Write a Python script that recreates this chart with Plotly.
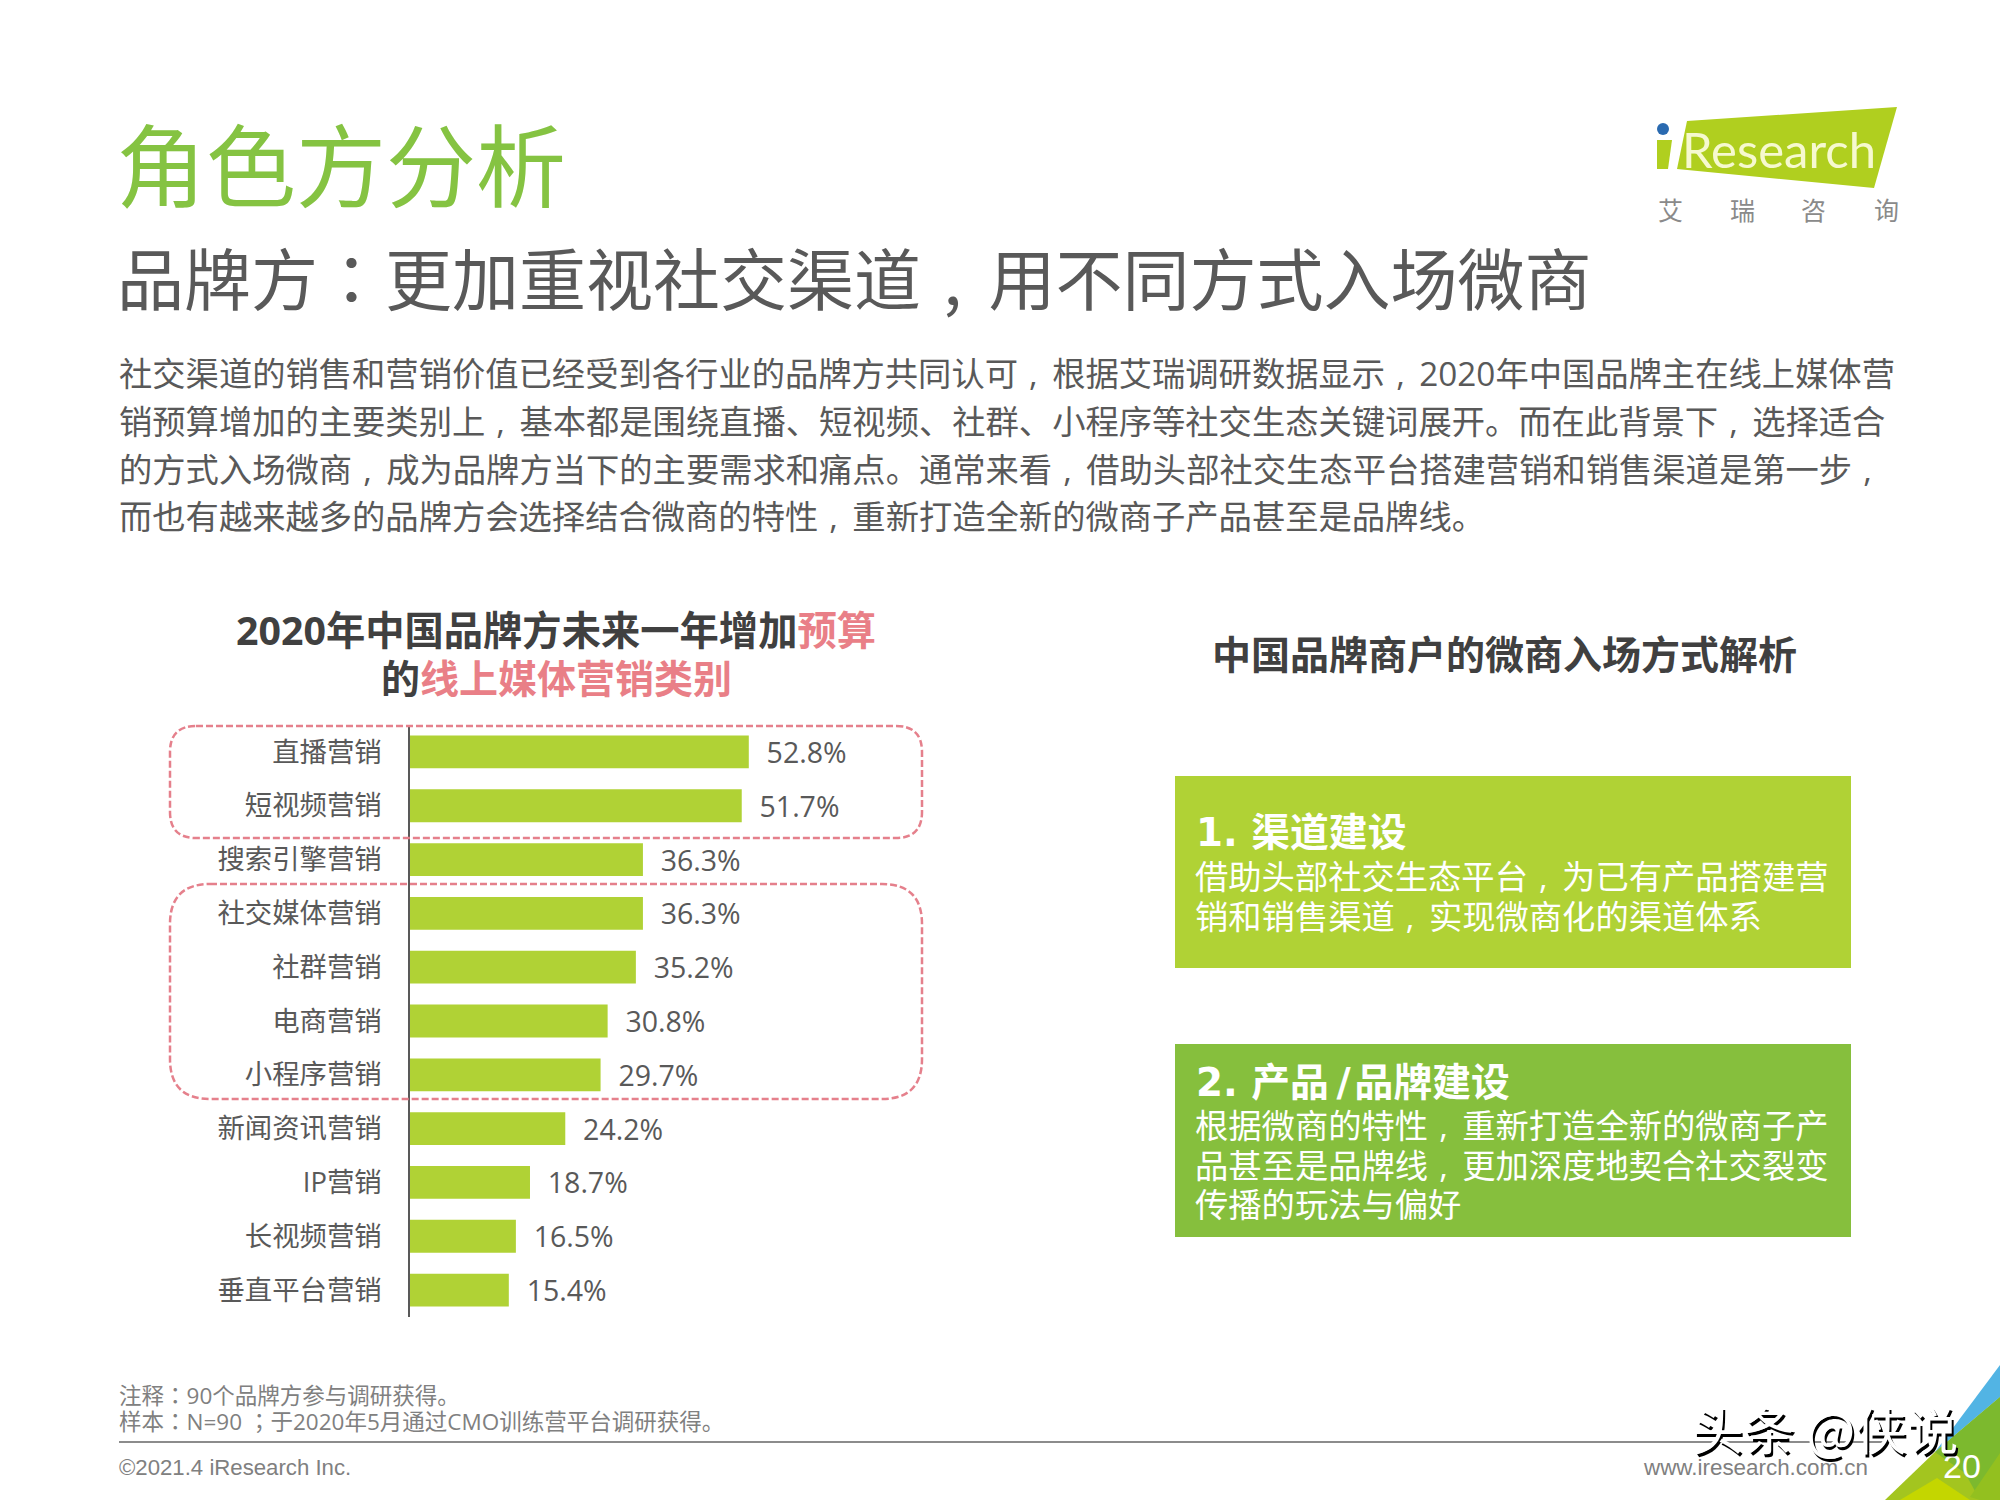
import plotly.graph_objects as go

W = 2000
H = 1500
FONT = "Open Sans, Noto Sans CJK SC, sans-serif"
CJK = "Noto Sans CJK SC, sans-serif"
ARIAL = "Liberation Sans, Arial, sans-serif"
HEAD = "DejaVu Sans, Noto Sans CJK SC, sans-serif"

# chart data
categories = ["直播营销", "短视频营销", "搜索引擎营销", "社交媒体营销", "社群营销", "电商营销",
              "小程序营销", "新闻资讯营销", "IP营销", "长视频营销", "垂直平台营销"]
values = [52.8, 51.7, 36.3, 36.3, 35.2, 30.8, 29.7, 24.2, 18.7, 16.5, 15.4]

# page text
page_title = "角色方分析"
page_subtitle = "品牌方：更加重视社交渠道，用不同方式入场微商"
body_lines = [
    "社交渠道的销售和营销价值已经受到各行业的品牌方共同认可，根据艾瑞调研数据显示，2020年中国品牌主在线上媒体营",
    "销预算增加的主要类别上，基本都是围绕直播、短视频、社群、小程序等社交生态关键词展开。而在此背景下，选择适合",
    "的方式入场微商，成为品牌方当下的主要需求和痛点。通常来看，借助头部社交生态平台搭建营销和销售渠道是第一步，",
    "而也有越来越多的品牌方会选择结合微商的特性，重新打造全新的微商子产品甚至是品牌线。",
]
box1_lines = ["借助头部社交生态平台，为已有产品搭建营", "销和销售渠道，实现微商化的渠道体系"]
box2_lines = ["根据微商的特性，重新打造全新的微商子产", "品甚至是品牌线，更加深度地契合社交裂变", "传播的玩法与偏好"]
notes = ["注释：90个品牌方参与调研获得。", "样本：N=90 ；于2020年5月通过CMO训练营平台调研获得。"]
logo_cn = ["艾", "瑞", "咨", "询"]


def px(x):
    return x / W


def py(y):
    return 1 - y / H


def pun(s):
    # the commas and colons sit in the middle of the cell in the slide's font
    s = s.replace("，", "\u2004,\u2004\u200a")
    for ch in "：；":
        s = s.replace(ch, f'<span style="font-family:Noto Sans CJK TC">{ch}</span>')
    return s


def text(x, y, s, size, color="#595959", anchor="left", family=FONT, weight=None, shadow=None):
    font = dict(size=size, color=color, family=family)
    if weight:
        font["weight"] = weight
    if shadow:
        font["shadow"] = shadow
    return dict(x=px(x), y=py(y), xref="paper", yref="paper", text=pun(s), showarrow=False,
                xanchor=anchor, yanchor="middle", font=font, align=anchor)


def poly(points, color):
    path = "M " + " L ".join(f"{px(a)},{py(b)}" for a, b in points) + " Z"
    return dict(type="path", xref="paper", yref="paper", path=path,
                fillcolor=color, line=dict(width=0), layer="below")


def rounded(x0, y0, x1, y1, r):
    a0, a1 = px(x0), px(x1)
    b0, b1 = py(y0), py(y1)
    rx, ry = r / W, r / H
    path = (f"M {a0 + rx},{b0} L {a1 - rx},{b0} Q {a1},{b0} {a1},{b0 - ry} "
            f"L {a1},{b1 + ry} Q {a1},{b1} {a1 - rx},{b1} "
            f"L {a0 + rx},{b1} Q {a0},{b1} {a0},{b1 + ry} "
            f"L {a0},{b0 - ry} Q {a0},{b0} {a0 + rx},{b0} Z")
    return dict(type="path", xref="paper", yref="paper", path=path,
                line=dict(color="#e5808c", width=2.5, dash="7px,3px"), layer="above")


def rect(x0, y0, x1, y1, color):
    return dict(type="rect", xref="paper", yref="paper", x0=px(x0), x1=px(x1), y0=py(y0), y1=py(y1),
                fillcolor=color, line=dict(width=0), layer="below")


fig = go.Figure(go.Bar(
    x=values,
    y=categories,
    orientation="h",
    marker=dict(color="#b0d235", line=dict(width=0)),
    text=[f"\u00a0\u00a0{v}%" for v in values],
    textposition="outside",
    constraintext="none",
    cliponaxis=False,
    textfont=dict(size=28.5, color="#595959", family=FONT),
    hoverinfo="skip",
))

shapes = [
    rect(1175, 776, 1851, 968, "#b0d235"),
    rect(1175, 1044, 1851, 1237, "#86bf3d"),
    rounded(170, 726, 922, 838, 26),
    rounded(170, 884, 922, 1099, 40),
    # footer rule
    dict(type="line", xref="paper", yref="paper", x0=px(119), x1=px(1890), y0=py(1442), y1=py(1442),
         line=dict(color="#8c8c8c", width=2), layer="below"),
    # logo
    poly([(1687, 121), (1897, 107), (1874, 188), (1677, 169)], "#b0cf1f"),
    poly([(1657, 140), (1672, 140), (1668, 169), (1657, 169)], "#b0cf1f"),
    dict(type="circle", xref="paper", yref="paper", x0=px(1657), x1=px(1669), y0=py(123), y1=py(135),
         fillcolor="#2a6ab0", line=dict(width=0), layer="below"),
    # page corner
    poly([(1885, 1500), (1935, 1452), (2000, 1397), (2000, 1500)], "#a3c51f"),
    poly([(2000, 1365), (1935, 1452), (2000, 1397)], "#52b4e4"),
    poly([(1935, 1452), (2000, 1397), (2000, 1500), (1980, 1500), (1965, 1473)], "#7cb92e"),
    poly([(2000, 1453), (1970, 1497), (1980, 1500), (2000, 1500)], "#93c01f"),
    poly([(1900, 1500), (1937, 1478), (1970, 1500)], "#c4d600"),
]

annotations = [
    text(114, 161, page_title, 90, color="#85c342", family=CJK),
    text(115, 276, page_subtitle, 67, color="#595959", family=CJK),
    text(556, 630, '<b>2020年中国品牌方未来一年增加<span style="color:#e97f87">预算</span></b>', 39.3,
         color="#404040", anchor="center"),
    text(556, 678, '<b>的<span style="color:#e97f87">线上媒体营销类别</span></b>', 39,
         color="#404040", anchor="center"),
    text(1504, 654, "<b>中国品牌商户的微商入场方式解析</b>", 39, color="#404040", anchor="center"),
    text(1194, 832, "<b>1. 渠道建设</b>", 38.8, color="#ffffff", family=HEAD),
    text(1194, 1082, "<b>2. 产品\u2009/\u200a品牌建设</b>", 38.8, color="#ffffff", family=HEAD),
    text(1680, 149, "Research", 49, color="#f6f9cf", family="Lato, Open Sans, sans-serif"),
    text(1870, 1467, "www.iresearch.com.cn", 22.4, color="#808080", anchor="right", family=ARIAL),
    text(117, 1467, "©2021.4 iResearch Inc.", 22.2, color="#808080", family=ARIAL),
    text(1941, 1466, "20", 34, color="#ffffff", family=ARIAL),
    text(1690, 1427, "头条 @侠说", 51.5, color="#ffffff", family=CJK, shadow="2px 3px 0 #000000"),
]

for y, line in zip([373, 421, 469, 516], body_lines):
    annotations.append(text(117, y, line, 33.3))
for y, line in zip([876, 916], box1_lines):
    annotations.append(text(1193, y, line, 33.3, color="#ffffff"))
for y, line in zip([1125, 1165, 1204], box2_lines):
    annotations.append(text(1193, y, line, 33.3, color="#ffffff"))
for y, line in zip([1394, 1420], notes):
    annotations.append(text(117, y, line, 22.5, color="#808080"))
for x, ch in zip([1670, 1742, 1813, 1886], logo_cn):
    annotations.append(text(x, 209, ch, 25, color="#8a8a8a", anchor="center", family=CJK))

fig.update_layout(
    width=W,
    height=H,
    autosize=False,
    margin=dict(l=0, r=0, t=0, b=0),
    paper_bgcolor="#ffffff",
    plot_bgcolor="rgba(0,0,0,0)",
    showlegend=False,
    bargap=0.39,
    shapes=shapes,
    annotations=annotations,
)
fig.update_xaxes(domain=[px(410), px(795)], range=[0, 60], visible=False, fixedrange=True)
fig.update_yaxes(domain=[py(1317), py(725)], autorange="reversed", showgrid=False, zeroline=False,
                 showline=True, linecolor="#595959", linewidth=1.5, ticks="", ticklabelstandoff=21,
                 tickfont=dict(size=27.4, color="#595959", family=FONT), fixedrange=True)

fig.write_html("out.html", config=dict(displayModeBar=False),
               post_script="document.body.style.margin='0';")
